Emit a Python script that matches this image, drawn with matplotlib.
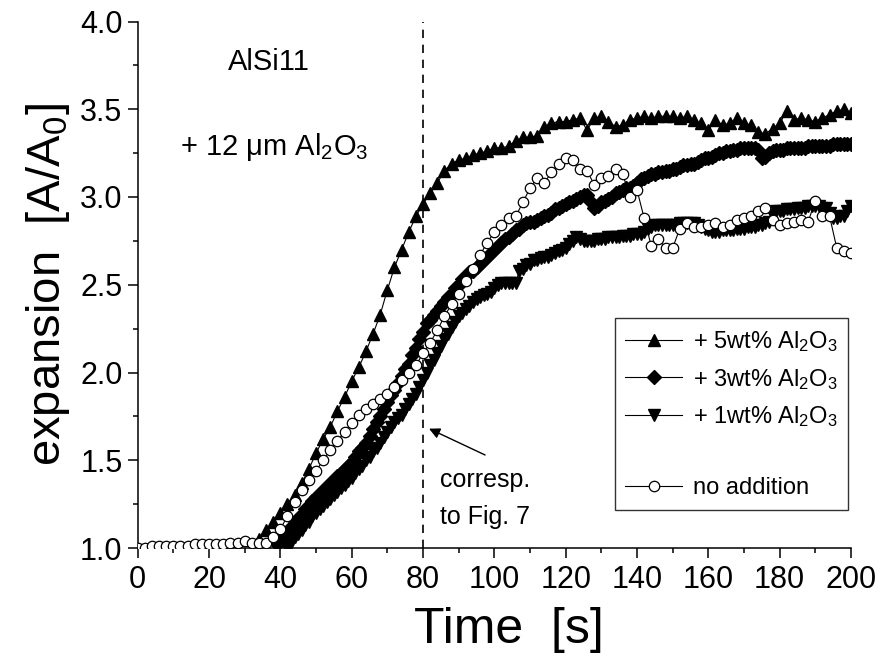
import numpy as np
import matplotlib
matplotlib.use("Agg")
import matplotlib.pyplot as plt
from matplotlib.lines import Line2D

plt.rcParams['font.family'] = ['Liberation Sans', 'DejaVu Sans']
plt.rcParams['mathtext.fontset'] = 'custom'
plt.rcParams['mathtext.rm'] = 'Liberation Sans'
plt.rcParams['mathtext.it'] = 'Liberation Sans:italic'

# ---------------- data ----------------
t_5wt = np.arange(34, 201, 2)
v_5wt = [1.05, 1.10, 1.15, 1.20, 1.25, 1.30, 1.37, 1.45, 1.54, 1.62,
         1.69, 1.78, 1.86, 1.95, 2.03, 2.12, 2.22, 2.33, 2.47, 2.60,
         2.70, 2.80, 2.89, 2.96, 3.02, 3.08, 3.15, 3.19, 3.21, 3.22,
         3.24, 3.25, 3.26, 3.28, 3.28, 3.29, 3.32, 3.34, 3.34, 3.35,
         3.40, 3.42, 3.43, 3.43, 3.44, 3.45, 3.38, 3.45, 3.46, 3.43,
         3.40, 3.41, 3.44, 3.45, 3.46, 3.45, 3.46, 3.46, 3.46, 3.45,
         3.46, 3.44, 3.42, 3.38, 3.44, 3.41, 3.42, 3.45, 3.42, 3.41,
         3.37, 3.36, 3.39, 3.42, 3.49, 3.44, 3.45, 3.44, 3.43, 3.45,
         3.47, 3.49, 3.50, 3.48]

t_3wt = np.arange(39, 201, 1)
v_3wt = [1.02, 1.04, 1.07, 1.09, 1.12, 1.14, 1.17, 1.19, 1.22, 1.24, 1.27, 1.29,
         1.31, 1.33, 1.35, 1.37, 1.39, 1.41, 1.43, 1.45, 1.47, 1.49,
         1.52, 1.55, 1.57, 1.60, 1.64, 1.68, 1.72, 1.75, 1.79, 1.83,
         1.87, 1.90, 1.94, 1.98, 2.02, 2.05, 2.10, 2.14, 2.19, 2.23,
         2.28, 2.30, 2.33, 2.35, 2.38, 2.40, 2.43, 2.45, 2.48, 2.50,
         2.53, 2.55, 2.57, 2.58, 2.60, 2.62, 2.64, 2.66, 2.68, 2.70,
         2.72, 2.74, 2.76, 2.77, 2.79, 2.81, 2.82, 2.84, 2.85, 2.86,
         2.86, 2.87, 2.88, 2.89, 2.90, 2.91, 2.93, 2.94, 2.95, 2.96,
         2.97, 2.98, 2.99, 3.00, 3.01, 3.01, 2.97, 2.94, 2.95, 2.97,
         2.98, 2.99, 3.00, 3.02, 3.03, 3.04, 3.05, 3.05, 3.06, 3.08,
         3.10, 3.11, 3.12, 3.13, 3.13, 3.14, 3.14, 3.15, 3.15, 3.16,
         3.16, 3.17, 3.18, 3.18, 3.19, 3.19, 3.20, 3.21, 3.22, 3.22,
         3.23, 3.24, 3.25, 3.25, 3.26, 3.26, 3.27, 3.27, 3.28, 3.28,
         3.28, 3.28, 3.28, 3.27, 3.22, 3.23, 3.25, 3.26, 3.27, 3.27,
         3.27, 3.28, 3.28, 3.28, 3.28, 3.28, 3.28, 3.29, 3.29, 3.29,
         3.29, 3.29, 3.29, 3.29, 3.30, 3.30, 3.30, 3.30, 3.30, 3.30]

t_1wt = np.arange(42, 201, 1)
v_1wt = [1.00, 1.03, 1.06, 1.08, 1.10, 1.13, 1.15, 1.18, 1.20,
         1.22, 1.24, 1.26, 1.28, 1.30, 1.32, 1.34, 1.36, 1.38, 1.40,
         1.43, 1.45, 1.47, 1.50, 1.52, 1.55, 1.57, 1.60, 1.63, 1.66,
         1.69, 1.72, 1.74, 1.76, 1.79, 1.82, 1.85, 1.88, 1.92, 1.96,
         2.00, 2.04, 2.07, 2.11, 2.15, 2.19, 2.22, 2.26, 2.29, 2.32,
         2.34, 2.36, 2.38, 2.40, 2.42, 2.43, 2.44, 2.45, 2.46, 2.48,
         2.50, 2.51, 2.51, 2.51, 2.51, 2.51, 2.58, 2.59, 2.61, 2.62,
         2.64, 2.64, 2.65, 2.66, 2.66, 2.67, 2.68, 2.69, 2.70, 2.71,
         2.73, 2.75, 2.77, 2.76, 2.75, 2.75, 2.75, 2.75, 2.76, 2.76,
         2.76, 2.77, 2.77, 2.77, 2.77, 2.78, 2.78, 2.78, 2.79, 2.79,
         2.79, 2.80, 2.82, 2.83, 2.84, 2.84, 2.84, 2.84, 2.84, 2.84,
         2.84, 2.85, 2.85, 2.85, 2.85, 2.85, 2.84, 2.83, 2.82, 2.81,
         2.80, 2.80, 2.80, 2.81, 2.81, 2.81, 2.81, 2.82, 2.82, 2.82,
         2.83, 2.83, 2.83, 2.84, 2.84, 2.85, 2.86, 2.90, 2.92, 2.92,
         2.92, 2.93, 2.93, 2.93, 2.94, 2.94, 2.94, 2.95, 2.95, 2.95,
         2.95, 2.94, 2.94, 2.91, 2.88, 2.88, 2.89, 2.89, 2.92, 2.95]

t_none = np.arange(0, 201, 2)
v_none = [1.00, 1.00, 1.01, 1.01, 1.01, 1.01, 1.01, 1.01, 1.02, 1.02,
          1.02, 1.02, 1.02, 1.03, 1.03, 1.04, 1.03, 1.03,
          1.03, 1.06, 1.11, 1.18, 1.26, 1.33, 1.39, 1.44, 1.50, 1.56,
          1.61, 1.66, 1.71, 1.76, 1.79, 1.82, 1.85, 1.88, 1.92, 1.96,
          2.00, 2.04, 2.11, 2.17, 2.24, 2.32, 2.39, 2.45, 2.52, 2.59,
          2.67, 2.74, 2.80, 2.84, 2.88, 2.89, 2.97, 3.05, 3.11, 3.08,
          3.14, 3.19, 3.22, 3.21, 3.16, 3.15, 3.07, 3.11, 3.12, 3.16,
          3.13, 3.00, 3.04, 2.88, 2.72, 2.76, 2.71, 2.71, 2.82, 2.85,
          2.83, 2.83, 2.84, 2.85, 2.83, 2.84, 2.87, 2.88, 2.89, 2.92,
          2.94, 2.87, 2.84, 2.85, 2.86, 2.87, 2.86, 2.98, 2.89, 2.89,
          2.71, 2.69, 2.68]

labels = ['+ 5wt% Al$_2$O$_3$', '+ 3wt% Al$_2$O$_3$',
          '+ 1wt% Al$_2$O$_3$', 'no addition']

x_ticks = [0, 20, 40, 60, 80, 100, 120, 140, 160, 180, 200]
y_ticks = [1.0, 1.5, 2.0, 2.5, 3.0, 3.5, 4.0]

# ---------------- figure ----------------
fig = plt.figure(figsize=(8.8, 6.68), dpi=100)
ax = fig.add_axes([137.7 / 880, 1 - 548 / 668, (851 - 137.7) / 880, (548 - 21.5) / 668])

l5, = ax.plot(t_5wt, v_5wt, color='k', lw=0.8, marker='^', ms=9,
              mfc='k', mec='k', label=labels[0], zorder=3)
l3, = ax.plot(t_3wt, v_3wt, color='k', lw=0.8, marker='D', ms=6.8,
              mfc='k', mec='k', label=labels[1], zorder=3)
l1, = ax.plot(t_1wt, v_1wt, color='k', lw=0.8, marker='v', ms=9,
              mfc='k', mec='k', label=labels[2], zorder=3)
l0, = ax.plot(t_none, v_none, color='k', lw=0.8, marker='o', ms=7.5,
              mfc='white', mec='k', mew=0.9, label=labels[3], zorder=4)

ax.axvline(80, color='k', lw=1.2, ls=(0, (5, 4)), zorder=2)

ax.set_xlim(0, 200)
ax.set_ylim(1.0, 4.0)
ax.set_xticks(x_ticks)
ax.set_yticks(y_ticks)
ax.set_xticks(np.arange(10, 200, 20), minor=True)
ax.set_yticks(np.arange(1.25, 4.0, 0.5), minor=True)
ax.set_yticklabels([f'{v:.1f}' for v in y_ticks])
ax.tick_params(which='major', direction='out', length=7, width=1.1, labelsize=22)
ax.tick_params(axis='x', which='major', pad=5)
ax.tick_params(axis='y', which='major', pad=4)
ax.tick_params(which='minor', direction='out', length=3.6, width=1.1)
ax.spines['top'].set_visible(False)
ax.spines['right'].set_visible(False)
for s in ['left', 'bottom']:
    ax.spines[s].set_linewidth(1.1)

ax.set_xlabel('Time  [s]', fontsize=36)
ax.xaxis.set_label_coords(0.52, -0.112)
ax.set_ylabel('expansion  [A/A$_0$]', fontsize=34, labelpad=6)

ax.text(36.8, 3.77, 'AlSi11', fontsize=21, ha='center', va='center')
ax.text(11.9, 3.24, '+ 12 μm Al$_2$O$_3$', fontsize=21, ha='left', va='baseline')
ax.text(84.8, 1.387, 'corresp.', fontsize=18, ha='left', va='center')
ax.text(84.8, 1.177, 'to Fig. 7', fontsize=18, ha='left', va='center')
ax.annotate('', xy=(81.7, 1.68), xytext=(97.4, 1.53),
            arrowprops=dict(arrowstyle='-|>', color='k', lw=1.0,
                            mutation_scale=16, shrinkA=0, shrinkB=0))

blank = Line2D([], [], color='none', label=' ')
leg = ax.legend([l5, l3, l1, blank, l0],
                [labels[0], labels[1], labels[2], ' ', labels[3]],
                loc='lower right', bbox_to_anchor=(0.996, 0.072),
                borderaxespad=0, fontsize=17, frameon=True, fancybox=False,
                edgecolor='k', handlelength=2.4, handletextpad=0.45,
                labelspacing=0.55, borderpad=0.45)
leg.get_frame().set_linewidth(1.0)

fig.savefig('out.png', dpi=100)
